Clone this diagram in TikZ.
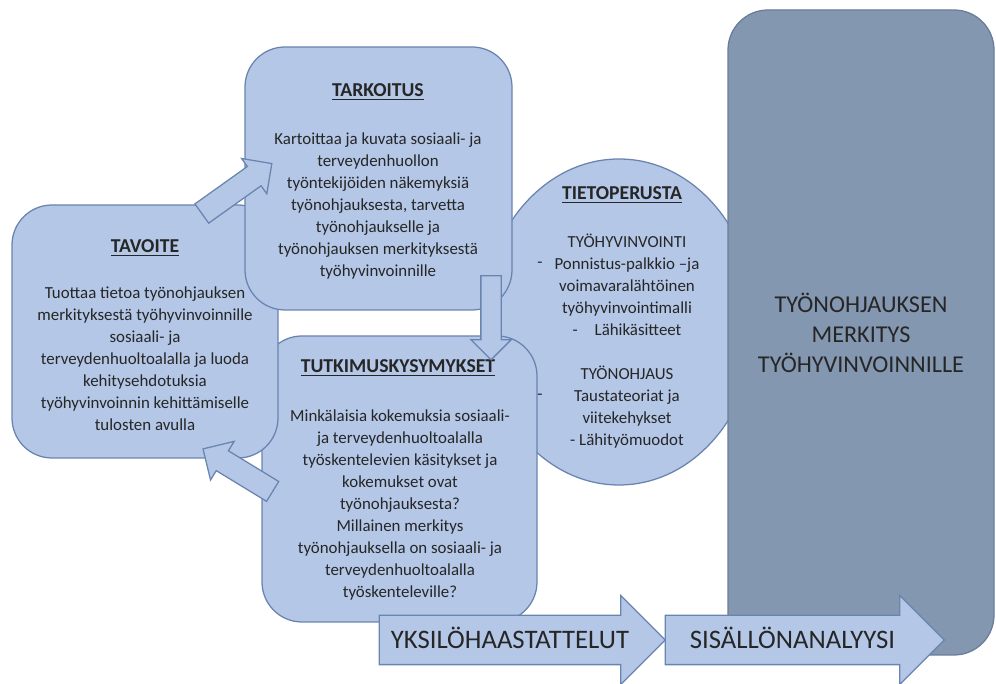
\documentclass[tikz,border=0pt]{standalone}
\usepackage{fontspec}
\setmainfont{Carlito}
\usepackage{tikz}
\usetikzlibrary{shapes.geometric,shapes.arrows}
\definecolor{boxfill}{HTML}{B4C7E7}
\definecolor{boxedge}{HTML}{6A84B0}
\definecolor{darkfill}{HTML}{8497B0}
\definecolor{darkedge}{HTML}{6A7C98}
\definecolor{ink}{HTML}{262626}

\begin{document}
\begin{tikzpicture}[
    box/.style={draw=boxedge, fill=boxfill, line width=0.9pt, rounded corners=1cm},
    boxhead/.style={font=\fontsize{14}{16.5}\selectfont\bfseries, text=ink},
    boxbody/.style={font=\fontsize{12}{15.65}\selectfont, text=ink, align=center},
    blockarrow/.style={single arrow, draw=boxedge, fill=boxfill, line width=0.9pt,
                       single arrow head indent=0pt, minimum width=0pt, inner xsep=0pt},
    steparrow/.style={blockarrow, text=ink, font=\fontsize{19}{22}\selectfont,
                      text height=0.42cm, text depth=0cm, inner ysep=0.39cm,
                      single arrow head extend=0.5cm}]
  \useasboundingbox (0,0) rectangle (24.9,17.1);

  \node[ellipse, draw=boxedge, fill=boxfill, line width=0.9pt,
        minimum width=6.85cm, minimum height=8.15cm] (tieto) at (15.475, 9.05) {};
  \node[boxhead] (tietohead) at (15.55, 12.225) {\underline{TIETOPERUSTA}};
  \node[boxbody] (tietobody) at (15.675, 8.5625)
        {TYÖHYVINVOINTI\\ Ponnistus-palkkio –ja\\ voimavaralähtöinen\\
         työhyvinvointimalli\\ -\quad Lähikäsitteet\\[15.65pt]
         TYÖNOHJAUS\\ Taustateoriat ja\\ viitekehykset\\ - Lähityömuodot};

  \node[box, minimum width=6.875cm, minimum height=7.15cm] (tutk) at (9.9875, 5.125) {};
  \node[boxhead] (tutkhead) at (9.95, 7.9) {\underline{TUTKIMUSKYSYMYKSET}};
  \node[boxbody] (tutkbody) at (10.0, 4.475)
        {Minkälaisia kokemuksia sosiaali-\\ ja terveydenhuoltoalalla\\
         työskentelevien käsitykset ja\\ kokemukset ovat\\ työnohjauksesta?\\
         Millainen merkitys\\ työnohjauksella on sosiaali- ja\\
         terveydenhuoltoalalla\\ työskenteleville?};

  \node[box, minimum width=6.65cm, minimum height=6.325cm] (tav) at (3.625, 8.8125) {};
  \node[boxhead] (tavhead) at (3.625, 10.9) {\underline{TAVOITE}};
  \node[boxbody] (tavbody) at (3.625, 8.12)
        {Tuottaa tietoa työnohjauksen\\ merkityksestä työhyvinvoinnille\\
         sosiaali- ja\\ terveydenhuoltoalalla ja luoda\\ kehitysehdotuksia\\
         työhyvinvoinnin kehittämiselle\\ tulosten avulla};

  \node[box, minimum width=6.675cm, minimum height=6.575cm] (tark) at (9.4625, 12.6375) {};
  \node[boxhead] (tarkhead) at (9.45, 14.8) {\underline{TARKOITUS}};
  \node[boxbody] (tarkbody) at (9.45, 11.95)
        {Kartoittaa ja kuvata sosiaali- ja\\ terveydenhuollon\\
         työntekijöiden näkemyksiä\\ työnohjauksesta, tarvetta\\
         työnohjaukselle ja\\ työnohjauksen merkityksestä\\ työhyvinvoinnille};

  \node[boxbody] (dasha) at (13.5, 10.475) {-};
  \node[boxbody] (dashb) at (13.5, 7.175) {-};

  \node[draw=darkedge, fill=darkfill, line width=0.9pt, rounded corners=1cm,
        minimum width=6.65cm, minimum height=16.125cm, align=center, text=ink,
        font=\fontsize{17.2}{21.3}\selectfont] (merk) at (21.525, 8.7875)
        {TYÖNOHJAUKSEN\\ MERKITYS\\ TYÖHYVINVOINNILLE};

  \node[blockarrow, rotate=35.5, minimum height=2.15cm, inner ysep=0.28cm,
        single arrow head extend=0.245cm] (tavtark) at (5.8, 12.3) {};
  \node[blockarrow, rotate=148.6, minimum height=2.04cm, inner ysep=0.275cm,
        single arrow head extend=0.275cm] (tutktav) at (6.07, 5.27) {};
  \node[blockarrow, rotate=-90, minimum height=2.1cm, inner ysep=0.2375cm,
        single arrow head extend=0.25cm] (tarktutk) at (12.275, 9.28) {};

  \node[steparrow, minimum height=7.15cm] (haast) at (12.75, 1.1) {YKSILÖHAASTATTELUT};
  \node[steparrow, minimum height=6.975cm] (anal) at (19.8125, 1.1) {SISÄLLÖNANALYYSI};
\end{tikzpicture}
\end{document}
